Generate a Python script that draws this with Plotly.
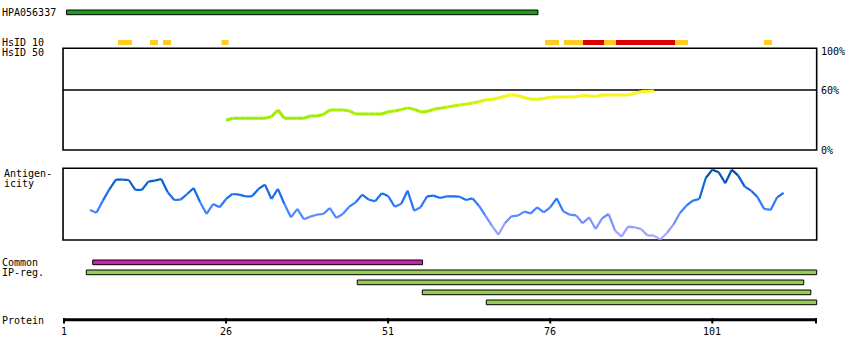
import plotly.graph_objects as go

# ---------------- data ----------------
protein_len = 117
tick_residues = [1, 26, 51, 76, 101]

antibody_name = "HPA056337"
antibody_range = (1.4, 74.1)

hsid10_yellow = [(9.33, 11.49), (14.27, 15.5), (16.27, 17.5), (25.3, 26.38),
                 (75.2, 77.35), (78.1, 81.06), (84.3, 86.15), (95.25, 97.25),
                 (108.97, 110.2)]
hsid10_red = [(81.06, 84.3), (86.15, 95.25)]

common_ranges = [(5.43, 56.3)]
ipreg_ranges = [(4.44, 117.1), (46.24, 115.1), (56.27, 116.2), (66.14, 117.1)]

sim_residues = list(range(26, 93))
sim_values = [29.3, 31.2, 31.2, 31.2, 31.2, 31.2, 31.2, 32.8, 39.3, 31.2,
              31.2, 31.2, 31.2, 33.4, 33.4, 34.9, 39.3, 39.3, 39.3, 38.5,
              35.4, 35.4, 35.4, 35.4, 35.4, 37.6, 38.3, 39.7, 41.4, 40.1,
              37.4, 37.9, 40.0, 41.0, 42.0, 43.3, 44.2, 45.1, 46.2, 47.5,
              49.3, 49.6, 51.1, 52.8, 54.3, 53.4, 51.6, 49.9, 49.9, 50.6,
              51.9, 52.0, 52.1, 52.2, 52.3, 53.6, 53.1, 52.6, 54.1, 54.1,
              54.1, 54.1, 54.1, 55.5, 57.4, 57.8, 58.0]
sim_ticks = [100, 60, 0]
sim_tick_labels = ["100%", "60%", "0%"]

antig_residues = list(range(5, 113))
antig_values = [41.9, 38.1, 54.9, 70.7, 84.2, 84.2, 83.7, 69.8, 69.8, 81.4,
                82.8, 85.1, 66.5, 55.8, 56.3, 64.2, 72.6, 52.6, 36.3, 50.2,
                45.6, 57.2, 64.2, 63.3, 60.9, 60.9, 71.2, 77.2, 57.2, 71.2,
                50.2, 31.6, 43.3, 28.8, 32.6, 35.3, 36.3, 44.7, 30.7, 36.3,
                46.5, 52.6, 63.3, 56.3, 54.0, 65.1, 61.4, 46.5, 50.2, 68.8,
                40.9, 45.6, 60.9, 61.9, 58.6, 60.9, 60.9, 60.5, 55.8, 58.1,
                47.9, 34.0, 20.0, 7.4, 23.3, 33.0, 34.0, 39.5, 37.2, 45.6,
                38.6, 45.6, 58.1, 40.0, 35.3, 34.4, 23.3, 31.6, 15.3, 30.2,
                36.3, 13.0, 4.7, 18.6, 17.7, 15.3, 6.5, 6.0, 0.9, 9.8,
                21.4, 37.7, 47.9, 54.9, 57.2, 86.5, 98.1, 94.4, 79.1, 98.1,
                89.8, 74.4, 68.8, 59.5, 43.3, 41.9, 59.5, 65.6]

# ---------------- layout geometry ----------------
W, H = 850, 360
X0_PX, PX_PER_RES = 64.0, 6.483
x_lo = 1 - X0_PX / PX_PER_RES
x_hi = 1 + (W - X0_PX) / PX_PER_RES


def py(p):
    """pixel row -> paper y"""
    return 1 - p / H


BOX_L, BOX_R = 0.85, protein_len + 0.1
SIM_TOP, SIM_BOT = 48.3, 150.0
ANT_TOP, ANT_BOT = 168.3, 240.0

FONT = dict(family="DejaVu Sans Mono", size=10, color="black")


def lerp_color(stops, v):
    if v <= stops[0][0]:
        c = stops[0][1]
    elif v >= stops[-1][0]:
        c = stops[-1][1]
    else:
        for (a, ca), (b, cb) in zip(stops, stops[1:]):
            if a <= v <= b:
                t = (v - a) / (b - a)
                c = tuple(ca[i] + (cb[i] - ca[i]) * t for i in range(3))
                break
    return "rgb(%d,%d,%d)" % tuple(int(round(x)) for x in c)


sim_stops = [(28, (150, 236, 0)), (40, (170, 240, 0)), (46, (205, 242, 0)),
             (51, (240, 244, 20)), (56, (255, 245, 30)), (60, (255, 240, 0))]
ant_stops = [(0, (182, 170, 255)), (15, (150, 158, 255)), (30, (105, 140, 255)),
             (45, (60, 128, 255)), (60, (25, 112, 240)), (80, (10, 96, 210)),
             (100, (0, 72, 150))]

fig = go.Figure()

# similarity line (HsID 50)
for i in range(len(sim_residues) - 1):
    v = (sim_values[i] + sim_values[i + 1]) / 2
    fig.add_trace(go.Scatter(
        x=sim_residues[i:i + 2], y=sim_values[i:i + 2], mode="lines",
        line=dict(color=lerp_color(sim_stops, v), width=3),
        xaxis="x", yaxis="y2", showlegend=False, hoverinfo="skip"))

# antigenicity line
for i in range(len(antig_residues) - 1):
    v = (antig_values[i] + antig_values[i + 1]) / 2
    fig.add_trace(go.Scatter(
        x=antig_residues[i:i + 2], y=antig_values[i:i + 2], mode="lines",
        line=dict(color=lerp_color(ant_stops, v), width=2.2),
        xaxis="x", yaxis="y3", showlegend=False, hoverinfo="skip"))

shapes = []


def bar(r0, r1, ptop, pbot, fill, outline=True):
    shapes.append(dict(type="rect", xref="x", yref="paper", x0=r0, x1=r1,
                       y0=py(pbot), y1=py(ptop), fillcolor=fill,
                       line=dict(color="black", width=1) if outline else dict(width=0),
                       layer="above"))


# antibody bar
bar(antibody_range[0], antibody_range[1], 10, 14.7, "#1f9a1f")

# HsID 10
for a, b in hsid10_yellow:
    bar(a, b, 40, 45, "#ffcc22", outline=False)
for a, b in hsid10_red:
    bar(a, b, 40, 45, "#dd0000", outline=False)

# panel boxes
for top, bot in [(SIM_TOP, SIM_BOT), (ANT_TOP, ANT_BOT)]:
    shapes.append(dict(type="rect", xref="x", yref="paper", x0=BOX_L, x1=BOX_R,
                       y0=py(bot), y1=py(top), fillcolor="rgba(0,0,0,0)",
                       line=dict(color="black", width=1.6), layer="below"))
# 60% line
shapes.append(dict(type="line", xref="x", yref="paper", x0=BOX_L, x1=BOX_R,
                   y0=py(90.0), y1=py(90.0), line=dict(color="black", width=1.3),
                   layer="below"))

# common / IP-reg bars
track_rows = [(260, 264.7), (270, 274.7), (280, 284.7), (290, 294.7), (300, 304.7)]
for a, b in common_ranges:
    bar(a, b, track_rows[0][0], track_rows[0][1], "#cc22aa")
for k, (a, b) in enumerate(ipreg_ranges):
    t, bt = track_rows[k + 1]
    bar(a, b, t, bt, "#99cc55")

# protein axis
shapes.append(dict(type="line", xref="x", yref="paper", x0=1, x1=protein_len,
                   y0=py(319.7), y1=py(319.7), line=dict(color="black", width=3)))
for r in tick_residues + [protein_len]:
    shapes.append(dict(type="line", xref="x", yref="paper", x0=r, x1=r,
                       y0=py(318), y1=py(323.5), line=dict(color="black", width=2)))

annotations = []


def label(text, xpix, ypix, anchor="left"):
    annotations.append(dict(text=text, xref="paper", yref="paper",
                            x=xpix / W, y=py(ypix), xanchor=anchor,
                            yanchor="middle", showarrow=False, font=FONT,
                            borderpad=0))


label(antibody_name, 1, 12.5)
label("HsID 10", 1, 42.5)
label("HsID 50", 1, 52.5)
label("Antigen-", 2.5, 173.5)
label("icity", 2.5, 183.5)
label("Common", 1, 262.5)
label("IP-reg.", 1, 272.5)
label("Protein", 1, 320)

for r in tick_residues:
    annotations.append(dict(text=str(r), xref="x", yref="paper", x=r, y=py(331.5),
                            xanchor="center", yanchor="middle", showarrow=False,
                            font=FONT, borderpad=0))

for v, t in zip(sim_ticks, sim_tick_labels):
    ypix = SIM_BOT - (SIM_BOT - SIM_TOP) * v / 100
    if v == 100:
        ypix += 3.5
    elif v == 60:
        ypix = 90.5
    annotations.append(dict(text=t, xref="paper", yref="paper", x=819.5 / W,
                            y=py(ypix), xanchor="left", yanchor="middle",
                            showarrow=False, font=FONT, borderpad=0))

fig.update_layout(
    width=W, height=H, autosize=False,
    margin=dict(l=0, r=0, t=0, b=0, pad=0),
    paper_bgcolor="white", plot_bgcolor="white",
    xaxis=dict(range=[x_lo, x_hi], visible=False, showgrid=False, zeroline=False,
               domain=[0, 1]),
    yaxis=dict(range=[0, 1], visible=False, domain=[0, 1]),
    yaxis2=dict(range=[0, 100], visible=False, domain=[py(SIM_BOT), py(SIM_TOP)],
                anchor="x"),
    yaxis3=dict(range=[0, 100], visible=False, domain=[py(ANT_BOT), py(ANT_TOP)],
                anchor="x"),
    shapes=shapes, annotations=annotations, showlegend=False,
)

fig.write_html("out.html")
